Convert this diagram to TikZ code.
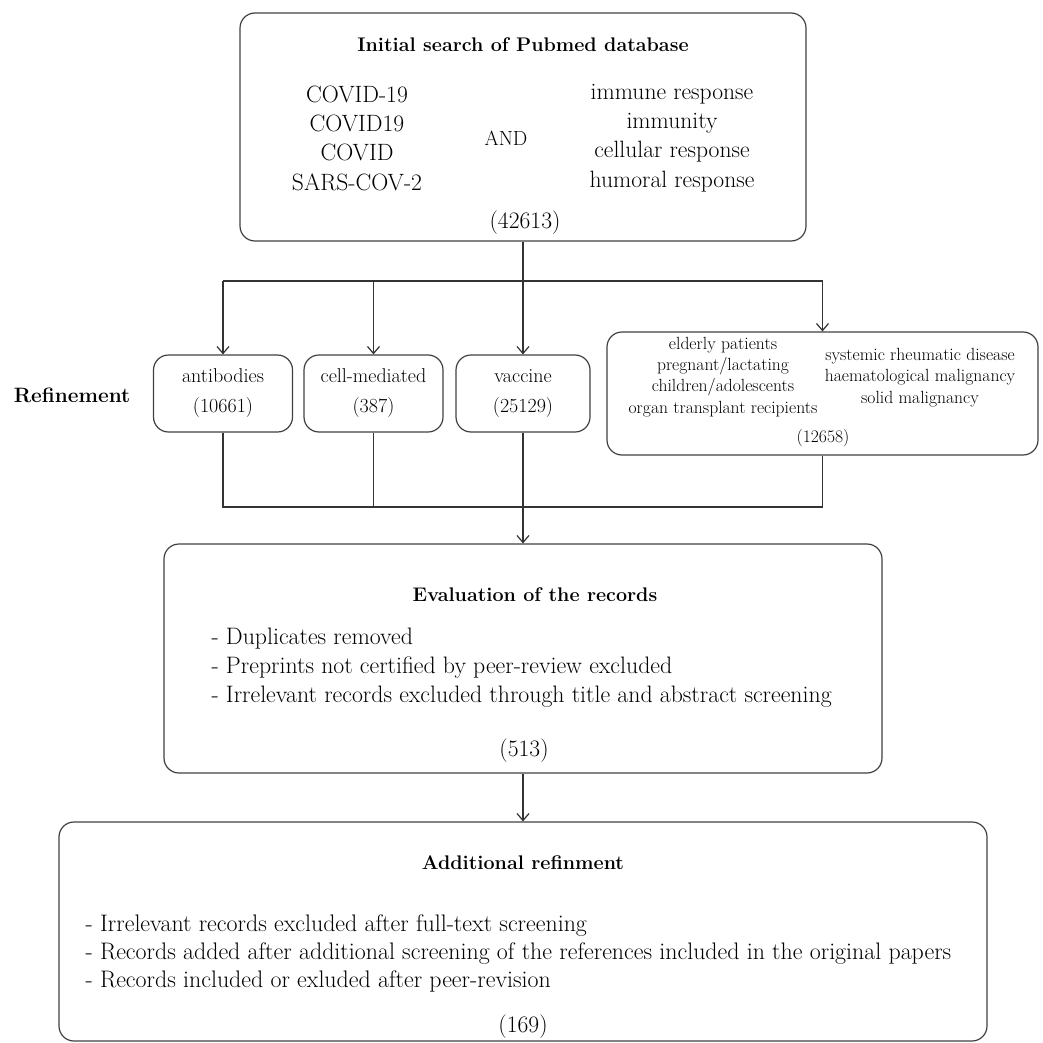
\documentclass[tikz,border=0pt]{standalone}
\usepackage{tikz}
\usetikzlibrary{arrows.meta,positioning,calc}

\newcommand\txtmain{\fontsize{23.6}{29.3}\selectfont}
\newcommand\txthead{\fontsize{19.7}{24}\selectfont\bfseries}
\newcommand\txtcat{\fontsize{20}{30}\selectfont}
\newcommand\txtsub{\fontsize{17.6}{21.3}\selectfont}

\begin{document}
\begin{tikzpicture}[x=1pt,y=-1pt,line width=1.2pt,
    roundbox/.style={draw=black!75,rounded corners=15pt,inner sep=0pt},
    catbox/.style={roundbox,minimum width=139pt,minimum height=77pt,align=center,font=\txtcat},
    txt/.style={inner sep=0pt,align=center},
    arr/.style={-{Straight Barb[length=7pt,width=12pt]}}]
    \useasboundingbox (0,0) rectangle (1043,1043);
    % search box
    \node[roundbox,minimum width=566pt,minimum height=228pt] (search) at (523,127) {};
    \node[txt,font=\txthead] (searchtitle) at (523,45) {Initial search of Pubmed database};
    \node[txt,font=\txtmain] (termsA) at (357,138) {COVID-19\\COVID19\\COVID\\SARS-COV-2};
    \node[txt,font=\fontsize{20.5}{24}\selectfont] (andop) at (506,138) {AND};
    \node[txt,font=\txtmain] (termsB) at (672,138) {immune response\\immunity\\cellular response\\humoral response};
    \node[txt,font=\txtmain] (searchn) at (525,223) {(42613)};
    % refinement row
    \node[txt,font=\fontsize{20.8}{24}\selectfont\bfseries] (refine) at (72,395) {Refinement};
    \node[catbox] (antibodies) at (223,393.5) {antibodies\\(10661)};
    \node[catbox] (cellmed) at (373.5,393.5) {cell-mediated\\(387)};
    \node[catbox,minimum width=134pt] (vaccine) at (523,393.5) {vaccine\\(25129)};
    \node[roundbox,minimum width=431pt,minimum height=123pt] (groups) at (822.5,393.5) {};
    \node[txt,font=\txtsub] (groupsA) at (723,377) {elderly patients\\pregnant/lactating\\children/adolescents\\organ transplant recipients};
    \node[txt,font=\txtsub] (groupsB) at (920,377.5) {systemic rheumatic disease\\haematological malignancy\\solid malignancy};
    \node[txt,font=\txtsub] (groupsn) at (823,438) {(12658)};
    % evaluation box
    \node[roundbox,minimum width=718pt,minimum height=229pt] (evaluation) at (523,658.5) {};
    \node[txt,font=\txthead] (evaltitle) at (535,595) {Evaluation of the records};
    \node[txt,font=\fontsize{23.8}{29}\selectfont,align=left,anchor=west] (evalsteps) at (211,668) {- Duplicates removed\\- Preprints not certified by peer-review excluded\\- Irrelevant records excluded through title and abstract screening};
    \node[txt,font=\txtmain] (evaln) at (524,751) {(513)};
    % additional refinement box
    \node[roundbox,minimum width=928pt,minimum height=219pt] (additional) at (523,931.5) {};
    \node[txt,font=\txthead] (addtitle) at (523,863) {Additional refinment};
    \node[txt,font=\fontsize{23.9}{28}\selectfont,align=left,anchor=west] (addsteps) at (85,953) {- Irrelevant records excluded after full-text screening\\- Records added after additional screening of the references included in the original papers\\- Records included or exluded after peer-revision};
    \node[txt,font=\txtmain] (addn) at (523,1027) {(169)};
    % connectors
    \coordinate (split) at (523,281);
    \coordinate (join) at (523,507);
    \draw[black!80] (antibodies.north |- split) -- (groups.north |- split);
    \draw[black!80,arr] (search.south) -- (vaccine.north);
    \foreach \n in {antibodies,cellmed,groups}
        \draw[black!80,arr] (\n.north |- split) -- (\n.north);
    \draw[black!80] (antibodies.south) -- (antibodies.south |- join) -- (groups.south |- join) -- (groups.south);
    \draw[black!80] (cellmed.south) -- (cellmed.south |- join);
    \draw[black!80,arr] (vaccine.south) -- (evaluation.north);
    \draw[black!80,arr] (evaluation.south) -- (additional.north);
\end{tikzpicture}
\end{document}
